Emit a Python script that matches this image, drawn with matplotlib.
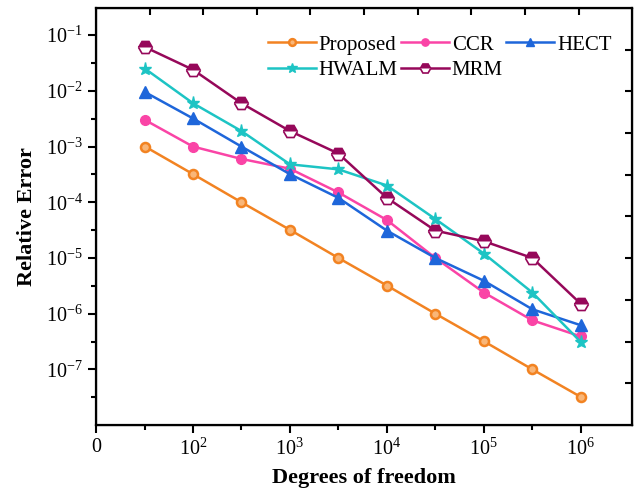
import numpy as np
import matplotlib
matplotlib.use("Agg")
import matplotlib.pyplot as plt

plt.rcParams['font.family'] = ['Liberation Serif', 'DejaVu Serif']
plt.rcParams['mathtext.fontset'] = 'custom'
plt.rcParams['mathtext.rm'] = 'Liberation Serif'
plt.rcParams['mathtext.it'] = 'Liberation Serif:italic'
plt.rcParams['mathtext.bf'] = 'Liberation Serif:bold'

# degrees of freedom (half-decade steps)
dof = [32, 100, 316, 1000, 3162, 10000, 31623, 100000, 316228, 1000000]

# relative errors
proposed = [1.0e-3, 3.2e-4, 1.0e-4, 3.2e-5, 1.0e-5, 3.2e-6, 1.0e-6, 3.2e-7, 1.0e-7, 3.2e-8]
ccr = [3.0e-3, 1.0e-3, 6.0e-4, 4.0e-4, 1.5e-4, 4.8e-5, 1.0e-5, 2.4e-6, 7.6e-7, 3.9e-7]
hect = [9.5e-3, 3.2e-3, 1.0e-3, 3.2e-4, 1.2e-4, 3.1e-5, 1.0e-5, 3.9e-6, 1.2e-6, 6.2e-7]
hwalm = [2.5e-2, 6.0e-3, 1.9e-3, 4.8e-4, 3.9e-4, 2.0e-4, 5.0e-5, 1.2e-5, 2.4e-6, 3.1e-7]
mrm = [6.1e-2, 2.4e-2, 6.0e-3, 1.9e-3, 7.5e-4, 1.2e-4, 3.1e-5, 2.0e-5, 1.0e-5, 1.5e-6]

xtick_vals = [1e1, 1e2, 1e3, 1e4, 1e5, 1e6]
xtick_labels = ['0', '$10^2$', '$10^3$', '$10^4$', '$10^5$', '$10^6$']
ytick_vals = [1e-7, 1e-6, 1e-5, 1e-4, 1e-3, 1e-2, 1e-1]
ytick_labels = ['$10^{-7}$', '$10^{-6}$', '$10^{-5}$', '$10^{-4}$', '$10^{-3}$', '$10^{-2}$', '$10^{-1}$']

fig = plt.figure(figsize=(6.36, 4.92), dpi=100)
ax = fig.add_axes([0.151, 0.136, 0.843, 0.848])

l1, = ax.plot(dof, proposed, color='#F28322', lw=1.8, marker='o', ms=6.5,
              mfc='#F9B678', mec='#F28322', mew=1.8, label='Proposed')
l2, = ax.plot(dof, ccr, color='#FA44A6', lw=1.8, marker='o', ms=7,
              mfc='#FA44A6', mec='#FA44A6', label='CCR')
l3, = ax.plot(dof, hect, color='#1E66DA', lw=1.8, marker='^', ms=8.5,
              mfc='#1E66DA', mec='#1E66DA', label='HECT')
l4, = ax.plot(dof, hwalm, color='#1DC4C4', lw=1.8, marker='*', ms=9.5,
              mfc='#1DC4C4', mec='#1DC4C4', label='HWALM')
l5, = ax.plot(dof, mrm, color='#96085A', lw=1.8, marker='H', ms=10,
              fillstyle='top', mfc='#96085A', mfcalt='white', mec='#96085A',
              mew=1.2, label='MRM')

ax.set_xscale('log')
ax.set_yscale('log')
ax.set_xlim(10, 10 ** 6.53)
ax.set_ylim(1e-8, 10 ** -0.51)

ax.set_xticks(xtick_vals)
ax.set_xticklabels(xtick_labels)
ax.set_xticks([10 ** (k + 0.5) for k in range(1, 6)], minor=True)
ax.set_yticks(ytick_vals)
ax.set_yticklabels(ytick_labels)
ax.set_yticks([10 ** (-k - 0.5) for k in range(1, 8)], minor=True)
ax.tick_params(which='both', direction='out', labelsize=14.5, width=1.5)
ax.tick_params(which='major', length=6)
ax.tick_params(which='minor', length=3.5)
ax.xaxis.set_minor_formatter(plt.NullFormatter())
ax.yaxis.set_minor_formatter(plt.NullFormatter())

for s in ax.spines.values():
    s.set_linewidth(1.6)

# top and right ticks (inward, unlabeled)
top = ax.twiny()
top.set_xlim(0, 1)
top.set_xticks(np.arange(0.1, 0.95, 0.1))
top.tick_params(direction='in', length=5, width=1.5, labeltop=False)
right = ax.twinx()
right.set_ylim(0, 1)
right.set_yticks(np.arange(0.1, 0.95, 0.1))
right.tick_params(direction='in', length=5, width=1.5, labelright=False)

ax.set_xlabel('Degrees of freedom', fontsize=16, fontweight='bold', labelpad=6)
ax.set_ylabel('Relative Error', fontsize=16, fontweight='bold', labelpad=6)

ax.legend([l1, l4, l2, l5, l3], ['Proposed', 'HWALM', 'CCR', 'MRM', 'HECT'],
          ncol=3, loc='upper right', bbox_to_anchor=(0.985, 0.965), frameon=False,
          fontsize=15, handlelength=2.3, handletextpad=0.15, columnspacing=0.15,
          labelspacing=0.3, borderaxespad=0.2, markerscale=0.75)

fig.savefig('out.png', dpi=100)
